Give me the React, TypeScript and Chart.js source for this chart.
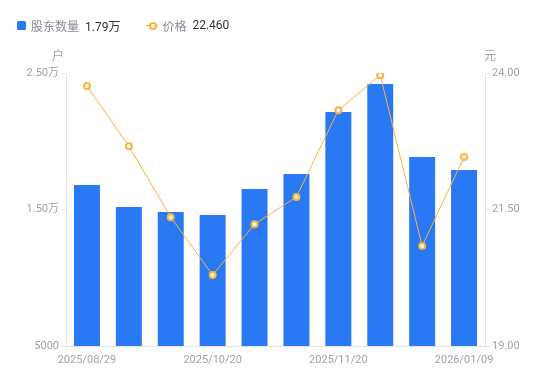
import React, { useEffect, useRef } from "react";
import { Chart, registerables } from "chart.js";

Chart.register(...registerables);

const categories = [
  "2025/08/29",
  "2025/09/10",
  "2025/09/30",
  "2025/10/20",
  "2025/10/31",
  "2025/11/10",
  "2025/11/20",
  "2025/12/10",
  "2025/12/31",
  "2026/01/09",
];
const shownXLabels = ["2025/08/29", "2025/10/20", "2025/11/20", "2026/01/09"];
const holders = [16800, 15180, 14820, 14600, 16500, 17600, 22140, 24190, 18850, 17900];
const prices = [23.76, 22.66, 21.36, 20.3, 21.23, 21.73, 23.32, 23.96, 20.83, 22.46];
const leftTicks = [5000, 15000, 25000];
const rightTicks = [19, 21.5, 24];

const FONT = "Roboto, 'Noto Sans CJK SC', sans-serif";
const BLUE = "#2979F5";
const ORANGE = "#F7B53B";
const AXIS_COLOR = "#E3E3E8";
const TICK_COLOR = "#A0A0AE";

const fmtLeft = (v: number) => (v >= 10000 ? (v / 10000).toFixed(2) + "万" : String(v));

const unitPlugin = {
  id: "units",
  afterDraw(chart: any) {
    const ctx = chart.ctx;
    const { left, right, top } = chart.chartArea;
    ctx.save();
    ctx.font = "12px " + FONT;
    ctx.fillStyle = TICK_COLOR;
    ctx.textBaseline = "middle";
    ctx.textAlign = "center";
    ctx.fillText("户", left - 8, top - 16);
    ctx.fillText("元", right + 5, top - 16);
    ctx.restore();
  },
};

export default function App() {
  const ref = useRef<HTMLCanvasElement>(null);
  useEffect(() => {
    if (!ref.current) return;
    const chart = new Chart(ref.current, {
      type: "bar",
      data: {
        labels: categories,
        datasets: [
          {
            type: "line",
            label: "价格",
            data: prices,
            yAxisID: "y1",
            borderColor: ORANGE,
            borderWidth: 1,
            pointRadius: 3,
            pointBorderWidth: 2,
            pointBackgroundColor: "#ffffff",
            pointBorderColor: ORANGE,
            tension: 0,
            order: 0,
          } as any,
          {
            type: "bar",
            label: "股东数量",
            data: holders,
            yAxisID: "y",
            backgroundColor: BLUE,
            categoryPercentage: 1,
            barPercentage: 0.62,
            order: 1,
          },
        ],
      },
      options: {
        animation: false,
        responsive: false,
        maintainAspectRatio: false,
        layout: { padding: { top: 73, left: 0, right: 0, bottom: 0 } },
        plugins: { legend: { display: false }, tooltip: { enabled: false } },
        scales: {
          x: {
            grid: { display: false },
            border: { display: true, color: AXIS_COLOR },
            ticks: {
              autoSkip: false,
              maxRotation: 0,
              color: TICK_COLOR,
              font: { size: 11, family: FONT },
              padding: 0,
              callback: function (this: any, _v: any, i: number) {
                const l = categories[i];
                return shownXLabels.includes(l) ? l : "";
              },
            },
            afterFit: (s: any) => {
              s.height = 35;
            },
          },
          y: {
            position: "left",
            min: 5000,
            max: 25000,
            afterBuildTicks: (s: any) => {
              s.ticks = leftTicks.map((v) => ({ value: v }));
            },
            grid: { drawOnChartArea: false, drawTicks: true, tickLength: 5, color: AXIS_COLOR },
            border: { display: true, color: AXIS_COLOR },
            ticks: {
              color: TICK_COLOR,
              font: { size: 11, family: FONT },
              padding: 2,
              callback: (v: any) => fmtLeft(Number(v)),
            },
            afterFit: (s: any) => {
              s.width = 66;
            },
          },
          y1: {
            position: "right",
            min: 19,
            max: 24,
            afterBuildTicks: (s: any) => {
              s.ticks = rightTicks.map((v) => ({ value: v }));
            },
            grid: { drawOnChartArea: false, drawTicks: true, tickLength: 5, color: AXIS_COLOR },
            border: { display: true, color: AXIS_COLOR },
            ticks: {
              color: TICK_COLOR,
              font: { size: 11, family: FONT },
              padding: 2,
              callback: (v: any) => Number(v).toFixed(2),
            },
            afterFit: (s: any) => {
              s.width = 65;
            },
          },
        },
      },
      plugins: [unitPlugin],
    });
    return () => chart.destroy();
  }, []);

  return (
    <div style={{ position: "absolute", left: 0, top: 0, width: 550, height: 381, fontFamily: FONT, background: "#fff" }}>
      <canvas ref={ref} width={550} height={381} style={{ position: "absolute", left: 0, top: 0 }} />
      <div style={{ position: "absolute", left: 17, top: 15, height: 20, display: "flex", alignItems: "center", fontSize: 12, whiteSpace: "nowrap" }}>
        <span style={{ display: "inline-block", width: 9, height: 9, background: BLUE, borderRadius: 1.5, marginRight: 5 }} />
        <span style={{ color: "#8A8A96" }}>股东数量</span>
        <span style={{ color: "#333", marginLeft: 6 }}>1.79万</span>
        <span style={{ position: "relative", display: "inline-block", width: 12, height: 8, marginLeft: 26, marginRight: 4 }}>
          <span style={{ position: "absolute", left: 0, top: 3.5, width: 12, height: 1, background: ORANGE }} />
          <span style={{ position: "absolute", left: 2.5, top: 0.5, width: 4, height: 4, border: "2px solid " + ORANGE, borderRadius: "50%", background: "#fff" }} />
        </span>
        <span style={{ color: "#8A8A96" }}>价格</span>
        <span style={{ color: "#333", marginLeft: 6 }}>22.460</span>
      </div>
    </div>
  );
}
